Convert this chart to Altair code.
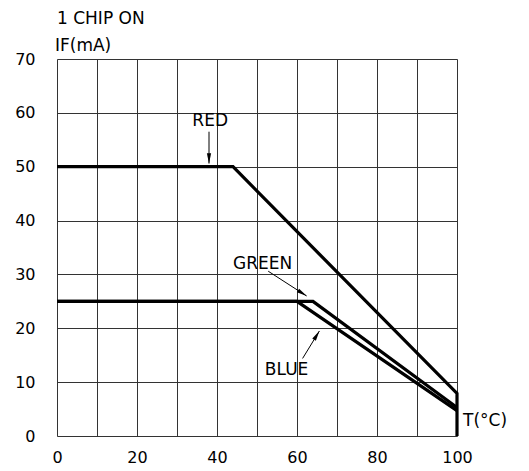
import altair as alt
import pandas as pd
import math

# ---- data ----
red_x = [0, 44, 100, 100]
red_y = [50, 50, 7.9, 0]
green_x = [0, 64, 100]
green_y = [25, 25, 5.3]
blue_x = [0, 60, 100]
blue_y = [25, 25, 4.7]

x_ticks = [0, 10, 20, 30, 40, 50, 60, 70, 80, 90, 100]
y_ticks = [0, 10, 20, 30, 40, 50, 60, 70]

# annotations: label, label position, arrow start, arrow tip
ann_label = ["RED", "GREEN", "BLUE"]
ann_lx = [38.3, 51.4, 57.4]
ann_ly = [58.5, 31.9, 12.3]
arr_x1 = [38.0, 52.8, 61.4]
arr_y1 = [56.5, 30.6, 14.4]
arr_x2 = [38.0, 62.4, 65.6]
arr_y2 = [50.6, 26.0, 19.5]

W, H = 400, 377
PX_X = W / 100.0
PX_Y = H / 70.0
FONT = "DejaVu Sans"

rows = []
for name, xs_, ys_ in [("RED", red_x, red_y), ("GREEN", green_x, green_y), ("BLUE", blue_x, blue_y)]:
    for i, (a, b) in enumerate(zip(xs_, ys_)):
        rows.append({"series": name, "x": a, "y": b, "o": i})
lines_df = pd.DataFrame(rows)

arr_rows = []
for lab, x1, y1, x2, y2 in zip(ann_label, arr_x1, arr_y1, arr_x2, arr_y2):
    dxp = (x2 - x1) * PX_X
    dyp = -(y2 - y1) * PX_Y
    n = math.hypot(dxp, dyp)
    ux, uy = dxp / n, dyp / n
    ang = math.degrees(math.atan2(ux, -uy)) % 360
    hx = x2 - ux * 5 / PX_X
    hy = y2 + uy * 5 / PX_Y
    arr_rows.append({"label": lab, "x1": x1, "y1": y1, "x2": x2, "y2": y2,
                     "hx": hx, "hy": hy, "ang": ang})
arr_df = pd.DataFrame(arr_rows)
lab_df = pd.DataFrame({"label": ann_label, "x": ann_lx, "y": ann_ly})

xs = alt.Scale(domain=[0, 100], nice=False, zero=False)
ys = alt.Scale(domain=[0, 70], nice=False, zero=False)

x_axis = alt.Axis(values=x_ticks, grid=True, ticks=False, domain=False,
                  labelExpr="datum.value % 20 == 0 ? datum.label : ''",
                  labelFont=FONT, labelFontSize=16, labelColor="black",
                  labelPadding=13, title=None, labelFlush=False, labelOverlap=False,
                  gridColor="#333333", gridWidth=1, gridOpacity=1)
y_axis = alt.Axis(values=y_ticks, grid=True, ticks=False, domain=False,
                  labelFont=FONT, labelFontSize=16, labelColor="black",
                  labelPadding=22, title=None, labelOverlap=False,
                  gridColor="#333333", gridWidth=1, gridOpacity=1)


def X(f):
    return alt.X(f, type="quantitative", scale=xs, axis=x_axis)


def Y(f):
    return alt.Y(f, type="quantitative", scale=ys, axis=y_axis)


lines = alt.Chart(lines_df).mark_line(color="black", strokeWidth=3.2, clip=False).encode(
    x=X("x"), y=Y("y"),
    detail="series:N",
    order="o:Q",
)

arrows = alt.Chart(arr_df).mark_rule(color="black", strokeWidth=1).encode(
    x=X("x1"), y=Y("y1"), x2="x2:Q", y2="y2:Q",
)

heads = alt.Chart(arr_df).mark_point(
    shape="M0,-1L0.4,1L-0.4,1Z", filled=True, color="black", opacity=1, size=110
).encode(
    x=X("hx"), y=Y("hy"),
    angle=alt.Angle("ang:Q", scale=None),
)

labels = alt.Chart(lab_df).mark_text(font=FONT, fontSize=17, color="black",
                                     align="center", baseline="middle").encode(
    x=X("x"), y=Y("y"), text="label:N"
)

extra_df = pd.DataFrame({
    "t": ["1 CHIP ON", "IF(mA)", "T(°C)"],
    "x": [0.0, -0.5, 101.5],
    "y": [77.4, 72.5, 2.7],
})
extra = alt.Chart(extra_df).mark_text(font=FONT, fontSize=17, color="black",
                                      align="left", baseline="middle", clip=False).encode(
    x=X("x"), y=Y("y"), text="t:N"
)

chart = alt.layer(lines, arrows, heads, labels, extra).properties(
    width=W, height=H,
    autosize=alt.AutoSizeParams(type="none"),
    padding={"left": 49, "top": 51, "right": 64, "bottom": 36},
).configure_view(stroke="black", strokeWidth=1.5).configure(background="white")

chart.save("out.html", embed_options={"renderer": "svg", "actions": False})
